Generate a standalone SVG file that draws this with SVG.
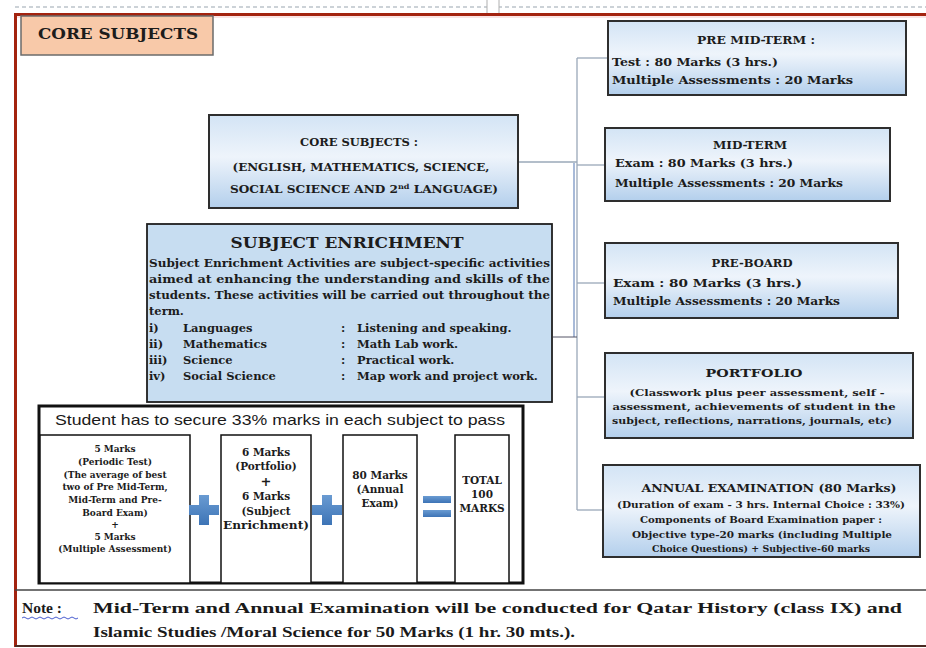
<svg xmlns="http://www.w3.org/2000/svg" width="926" height="648" viewBox="0 0 926 648">
<defs>
<linearGradient id="bg" x1="0" y1="0" x2="0" y2="1">
<stop offset="0" stop-color="#d3e4f5"/>
<stop offset="0.45" stop-color="#eef4fb"/>
<stop offset="1" stop-color="#b3cfec"/>
</linearGradient>
<linearGradient id="pl" x1="0" y1="0" x2="0" y2="1">
<stop offset="0" stop-color="#6a9bd2"/>
<stop offset="1" stop-color="#3d74b6"/>
</linearGradient>
<style>
.bx{fill:url(#bg);stroke:#2e2e2e;stroke-width:2}
.t{font-family:"DejaVu Serif","Liberation Serif",serif;font-weight:bold;fill:#1c1c1c}
.c{text-anchor:middle}
.n{font-family:"Liberation Serif","DejaVu Serif",serif;font-weight:bold;fill:#1a1a1a;font-size:15.5px}
.ln{fill:none;stroke:#9aa8b8;stroke-width:1.3}
.cell{fill:#fff;stroke:#111;stroke-width:1.5}
</style>
</defs>
<rect width="926" height="648" fill="#fff"/>
<!-- frame -->
<line x1="15" y1="7" x2="926" y2="7" stroke="#9aa6b0" stroke-width="1.2" stroke-dasharray="4 3"/>
<rect x="487" y="-1" width="12" height="16" fill="#fff" stroke="#b0b0b0"/>
<line x1="14" y1="14.5" x2="926" y2="14.5" stroke="#a3230f" stroke-width="3"/>
<line x1="17" y1="17" x2="926" y2="17" stroke="#f4c9c9" stroke-width="1"/>
<line x1="15.5" y1="13" x2="15.5" y2="647" stroke="#a3230f" stroke-width="3"/>
<line x1="15" y1="590" x2="926" y2="590" stroke="#444" stroke-width="1.5"/>
<line x1="15" y1="646" x2="926" y2="646" stroke="#4a2a22" stroke-width="2"/>

<g id="core-label">
<rect x="21" y="16" width="192" height="39" fill="#f8c9a9" stroke="#6b6b6b" stroke-width="1.5"/>
<text class="t" x="38" y="39" font-size="15" textLength="160" lengthAdjust="spacingAndGlyphs" fill="#2a1a14">CORE SUBJECTS</text>
</g>

<g id="connectors">
<line class="ln" x1="577" y1="58" x2="577" y2="510"/>
<line x1="574" y1="163" x2="574" y2="337" stroke="#a8bad8" stroke-width="2"/>
<line class="ln" x1="577" y1="58" x2="607" y2="58"/>
<line class="ln" x1="577" y1="165" x2="605" y2="165"/>
<line class="ln" x1="577" y1="283" x2="605" y2="283"/>
<line class="ln" x1="577" y1="397" x2="605" y2="397"/>
<line class="ln" x1="577" y1="510" x2="603" y2="510"/>
<line class="ln" x1="518" y1="162" x2="577" y2="162"/>
<line x1="553" y1="337" x2="577" y2="337" stroke="#556" stroke-width="1"/>
</g>

<g id="pre-mid-term">
<rect class="bx" x="608" y="21" width="298" height="74"/>
<text class="t c" x="756" y="44" font-size="11" textLength="118" lengthAdjust="spacingAndGlyphs">PRE MID-TERM :</text>
<text class="t" x="612" y="66" font-size="11" textLength="166" lengthAdjust="spacingAndGlyphs">Test  : 80 Marks (3 hrs.)</text>
<text class="t" x="612" y="84" font-size="11" textLength="241" lengthAdjust="spacingAndGlyphs">Multiple Assessments  : 20 Marks</text>
</g>

<g id="mid-term">
<rect class="bx" x="605" y="128" width="285" height="73"/>
<text class="t c" x="750" y="149" font-size="11" textLength="74" lengthAdjust="spacingAndGlyphs">MID-TERM</text>
<text class="t" x="615" y="167" font-size="11" textLength="178" lengthAdjust="spacingAndGlyphs">Exam : 80 Marks (3 hrs.)</text>
<text class="t" x="615" y="187" font-size="11" textLength="228" lengthAdjust="spacingAndGlyphs">Multiple Assessments : 20 Marks</text>
</g>

<g id="pre-board">
<rect class="bx" x="605" y="243" width="293" height="75"/>
<text class="t c" x="752" y="267" font-size="11" textLength="81" lengthAdjust="spacingAndGlyphs">PRE-BOARD</text>
<text class="t" x="613" y="287" font-size="11" textLength="189" lengthAdjust="spacingAndGlyphs">Exam : 80 Marks (3 hrs.)</text>
<text class="t" x="613" y="305" font-size="11" textLength="227" lengthAdjust="spacingAndGlyphs">Multiple Assessments : 20 Marks</text>
</g>

<g id="portfolio">
<rect class="bx" x="605" y="353" width="308" height="85"/>
<text class="t c" x="754" y="377" font-size="11.5" textLength="97" lengthAdjust="spacingAndGlyphs">PORTFOLIO</text>
<text class="t c" x="757" y="396" font-size="9" textLength="255" lengthAdjust="spacingAndGlyphs">(Classwork plus peer assessment,   self -</text>
<text class="t c" x="754" y="410" font-size="9" textLength="283" lengthAdjust="spacingAndGlyphs">assessment, achievements of student in the</text>
<text class="t c" x="752" y="424" font-size="9" textLength="280" lengthAdjust="spacingAndGlyphs">subject, reflections, narrations, journals, etc)</text>
</g>

<g id="annual-examination">
<rect class="bx" x="603" y="465" width="317" height="92"/>
<text class="t c" x="769" y="492" font-size="11" textLength="255" lengthAdjust="spacingAndGlyphs">ANNUAL EXAMINATION (80 Marks)</text>
<text class="t c" x="761" y="508" font-size="8.5" textLength="288" lengthAdjust="spacingAndGlyphs">(Duration of exam  - 3 hrs. Internal Choice : 33%)</text>
<text class="t c" x="761" y="523" font-size="8.5" textLength="242" lengthAdjust="spacingAndGlyphs">Components of Board Examination paper :</text>
<text class="t c" x="762" y="538" font-size="8.5" textLength="260" lengthAdjust="spacingAndGlyphs">Objective type-20 marks (including Multiple</text>
<text class="t c" x="761" y="552" font-size="8.5" textLength="218" lengthAdjust="spacingAndGlyphs">Choice Questions) + Subjective-60 marks</text>
</g>

<g id="core-subjects">
<rect class="bx" x="209" y="115" width="309" height="93"/>
<text class="t c" x="359" y="146" font-size="10.5" textLength="118" lengthAdjust="spacingAndGlyphs">CORE SUBJECTS :</text>
<text class="t c" x="361" y="171" font-size="10.5" textLength="257" lengthAdjust="spacingAndGlyphs">(ENGLISH, MATHEMATICS, SCIENCE,</text>
<text class="t c" x="364" y="193" font-size="10.5" textLength="268" lengthAdjust="spacingAndGlyphs">SOCIAL SCIENCE  AND 2<tspan font-size="7" dy="-4">nd</tspan><tspan dy="4"> LANGUAGE)</tspan></text>
</g>

<g id="subject-enrichment">
<rect x="147" y="224" width="405" height="178" fill="#c7ddf1" stroke="#1e1e1e" stroke-width="1.8"/>
<text class="t c" x="347" y="248" font-size="15" textLength="233" lengthAdjust="spacingAndGlyphs">SUBJECT ENRICHMENT</text>
<g font-size="11.5">
<text class="t" x="149" y="267" textLength="401" lengthAdjust="spacingAndGlyphs">Subject Enrichment Activities are subject-specific activities</text>
<text class="t" x="149" y="283" textLength="401" lengthAdjust="spacingAndGlyphs">aimed at enhancing the understanding and skills of the</text>
<text class="t" x="149" y="299" textLength="401" lengthAdjust="spacingAndGlyphs">students. These activities will be carried out throughout the</text>
<text class="t" x="149" y="315">term.</text>
<text class="t" x="149" y="332">i)</text><text class="t" x="183" y="332">Languages</text><text class="t" x="341" y="332">:</text><text class="t" x="357" y="332">Listening and speaking.</text>
<text class="t" x="149" y="348">ii)</text><text class="t" x="183" y="348">Mathematics</text><text class="t" x="341" y="348">:</text><text class="t" x="357" y="348">Math Lab work.</text>
<text class="t" x="149" y="364">iii)</text><text class="t" x="183" y="364">Science</text><text class="t" x="341" y="364">:</text><text class="t" x="357" y="364">Practical work.</text>
<text class="t" x="149" y="380">iv)</text><text class="t" x="183" y="380">Social Science</text><text class="t" x="341" y="380">:</text><text class="t" x="357" y="380">Map work and project work.</text>
</g>
</g>

<g id="marks-table">
<rect x="39" y="406" width="484" height="177" fill="#fff" stroke="#111" stroke-width="3"/>
<text x="55" y="425" font-family="Liberation Sans, Arial, sans-serif" font-size="15" fill="#1a1a1a" textLength="450" lengthAdjust="spacingAndGlyphs">Student has to secure 33% marks in each subject to pass</text>
</g>

<g id="periodic-test">
<rect class="cell" x="40" y="435" width="150" height="148"/>
<g font-size="9">
<text class="t c" x="115" y="452">5 Marks</text>
<text class="t c" x="115" y="465">(Periodic Test)</text>
<text class="t c" x="115" y="478">(The average of best</text>
<text class="t c" x="115" y="490">two of Pre Mid-Term,</text>
<text class="t c" x="115" y="503">Mid-Term and Pre-</text>
<text class="t c" x="115" y="516">Board Exam)</text>
<text class="t c" x="115" y="528">+</text>
<text class="t c" x="115" y="540">5 Marks</text>
<text class="t c" x="115" y="552">(Multiple Assessment)</text>
</g>
</g>

<g id="portfolio-enrichment">
<rect class="cell" x="221" y="435" width="90" height="148"/>
<g font-size="10.5">
<text class="t c" x="266" y="456">6 Marks</text>
<text class="t c" x="266" y="470">(Portfolio)</text>
<text class="t c" x="266" y="486" font-size="13">+</text>
<text class="t c" x="266" y="500">6 Marks</text>
<text class="t c" x="266" y="515">(Subject</text>
<text class="t c" x="266" y="529" textLength="86" lengthAdjust="spacingAndGlyphs">Enrichment)</text>
</g>
</g>

<g id="annual-exam">
<rect class="cell" x="343" y="435" width="74" height="148"/>
<g font-size="10.5">
<text class="t c" x="380" y="479">80 Marks</text>
<text class="t c" x="380" y="493">(Annual</text>
<text class="t c" x="380" y="507">Exam)</text>
</g>
</g>

<g id="total">
<rect class="cell" x="455" y="435" width="54" height="148"/>
<g font-size="10.5">
<text class="t c" x="482" y="484">TOTAL</text>
<text class="t c" x="482" y="498">100</text>
<text class="t c" x="482" y="512">MARKS</text>
</g>
</g>

<g id="operators" fill="url(#pl)">
<path d="M199 495h10v10h10v10h-10v10h-10v-10h-10v-10h10z"/>
<path d="M322 495h10v10h10v10h-10v10h-10v-10h-10v-10h10z"/>
<rect x="423" y="496" width="28" height="7"/>
<rect x="423" y="510" width="28" height="7"/>
</g>

<g id="note">
<text class="n" x="22" y="613">Note :</text>
<path d="M22 618 q2 -2 4 0 t4 0 t4 0 t4 0 t4 0 t4 0 t4 0 t4 0 t4 0 t4 0 t4 0 t4 0 t4 0 t4 0" fill="none" stroke="#4a5ed0" stroke-width="1"/>
<text class="n" x="93" y="613" textLength="809" lengthAdjust="spacingAndGlyphs">Mid-Term and Annual Examination will be conducted for Qatar History (class IX) and</text>
<text class="n" x="93" y="637" textLength="482" lengthAdjust="spacingAndGlyphs">Islamic Studies /Moral Science for 50 Marks (1 hr. 30 mts.).</text>
</g>
</svg>
